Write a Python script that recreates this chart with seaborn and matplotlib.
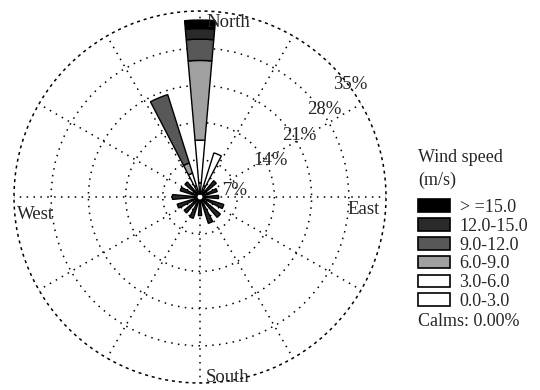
import numpy as np
import matplotlib
matplotlib.use("Agg")
import matplotlib.pyplot as plt
from matplotlib.patches import Patch
import seaborn as sns

# wind direction sectors (degrees, clockwise from north)
directions = [0, 22.5, 45, 67.5, 90, 112.5, 135, 157.5,
              180, 202.5, 225, 247.5, 270, 292.5, 315, 337.5]

# frequency (%) per speed class, one value per direction
speed_labels = ["0.0-3.0", "3.0-6.0", "6.0-9.0", "9.0-12.0", "12.0-15.0", "> =15.0"]
f_0_3   = [2.0, 1.5, 0.8, 0.8, 0.8, 0.8, 0.8, 0.8, 0.8, 0.8, 0.8, 0.8, 0.8, 0.8, 0.8, 1.5]
f_3_6   = [8.0, 6.5, 0, 0, 0, 0, 0, 0, 0, 0, 0, 0, 0, 0, 0, 2.5]
f_6_9   = [15.0, 0, 0, 0, 0, 0, 0, 0, 0, 0, 0, 0, 0, 0, 0, 2.0]
f_9_12  = [4.0, 0, 0, 0, 0, 0, 0, 0, 0, 0, 0, 0, 0, 0, 0, 13.5]
f_12_15 = [2.0, 0, 2.5, 1.9, 2.0, 3.2, 3.5, 3.7, 2.0, 2.7, 2.4, 3.0, 3.7, 2.4, 2.2, 0]
f_15    = [1.6, 0, 0, 0, 0, 0, 0, 0, 0, 0, 0, 0, 0, 0, 0, 0]
freqs = [f_0_3, f_3_6, f_6_9, f_9_12, f_12_15, f_15]
calms = 0.00

ring_values = [7, 14, 21, 28, 35]

sns.set_theme(style="white")
plt.rcParams["font.family"] = ["Liberation Serif", "DejaVu Serif"]

colors = ["white", "white", "#a0a0a0", "#585858", "#2a2a2a", "#000000"]

fig = plt.figure(figsize=(5.4, 3.9), dpi=100)
ax = fig.add_axes([14 / 540, 7 / 390, 372 / 540, 372 / 390], projection="polar")
ax.set_theta_zero_location("N")
ax.set_theta_direction(-1)
ax.set_facecolor("white")

hole = 0.7
theta = np.radians(directions)
cum = np.full(len(directions), hole)
for vals, col in zip(freqs, colors):
    vals = np.array(vals, dtype=float)
    m = vals > 0
    ax.bar(theta[m], vals[m], width=np.radians(10), bottom=cum[m],
           color=col, edgecolor="black", linewidth=1.0, zorder=3)
    cum = cum + vals

t = np.linspace(0, 2 * np.pi, 200)
ax.fill(t, np.full_like(t, hole), color="white", zorder=4)
ax.plot(t, np.full_like(t, hole), color="black", lw=1.8, zorder=4)

ax.set_ylim(0, ring_values[-1])
ax.set_yticks(ring_values[:-1])
ax.set_yticklabels([])
ax.set_xticks(np.radians(np.arange(0, 360, 30)))
ax.set_xticklabels([])
dots = (0, (1, 3.5))
ax.grid(True, color="black", linestyle=dots, linewidth=1.1)
ax.spines["polar"].set_linestyle(dots)
ax.spines["polar"].set_linewidth(1.1)
ax.spines["polar"].set_edgecolor("black")

fs = 13
# ring labels
for v, ang, r in zip(ring_values, [80, 63, 58, 55, 53], [6.7, 15, 22, 28.6, 35.3]):
    ax.text(np.radians(ang), r, f"{v}%", ha="center", va="center",
            fontsize=13.5, zorder=5)

# compass labels
for name, ang, r in [("North", 9.1, 33.3), ("East", 94.2, 30.9),
                     ("South", 171.2, 34.4), ("West", 263.8, 31.1)]:
    ax.text(np.radians(ang), r, name, ha="center", va="center", fontsize=13.5, zorder=5)

fig.text(418 / 540, 1 - 157 / 390, "Wind speed", fontsize=fs, ha="left", va="center")
fig.text(418 / 540, 1 - 180 / 390, "(m/s)", fontsize=fs, ha="left", va="center")

handles = [Patch(facecolor=c, edgecolor="black", linewidth=1.2, label=l)
           for c, l in zip(colors, speed_labels)][::-1]
leg = fig.legend(handles=handles, loc="upper left",
                 bbox_to_anchor=(418 / 540, 1 - 199 / 390),
                 frameon=False, fontsize=fs, handlelength=1.75,
                 handleheight=0.7, labelspacing=0.1, handletextpad=0.55,
                 borderpad=0, borderaxespad=0)

fig.text(418 / 540, 1 - 321 / 390, f"Calms: {calms:.2f}%", fontsize=fs,
         ha="left", va="center")

fig.savefig("out.png", dpi=100, facecolor="white")
